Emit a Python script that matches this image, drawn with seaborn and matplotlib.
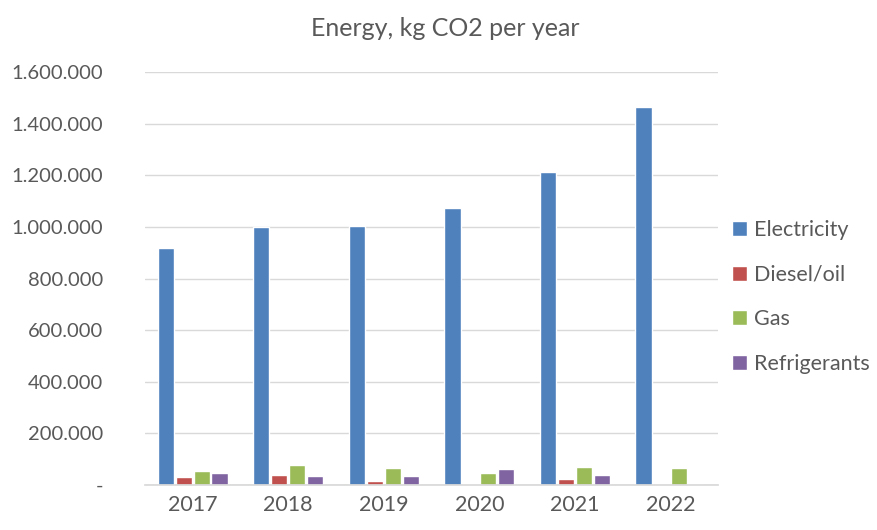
import matplotlib
matplotlib.use("Agg")
import matplotlib.pyplot as plt
import seaborn as sns
import pandas as pd
from matplotlib.ticker import FuncFormatter

years = ["2017", "2018", "2019", "2020", "2021", "2022"]
electricity = [918000, 1000000, 1003000, 1073000, 1212000, 1465000]
diesel_oil = [29000, 39000, 16000, 5000, 22000, 1500]
gas = [53000, 76000, 66000, 47000, 71000, 66000]
refrigerants = [46000, 33000, 34000, 60000, 38000, 0]
series_names = ["Electricity", "Diesel/oil", "Gas", "Refrigerants"]
colors = ["#4F81BD", "#C0504D", "#9BBB59", "#8064A2"]

rows = []
for name, vals in zip(series_names, [electricity, diesel_oil, gas, refrigerants]):
    for y, v in zip(years, vals):
        rows.append({"Year": y, "Source": name, "Value": v})
df = pd.DataFrame(rows)

sns.set_theme(style="white")
plt.rcParams['font.family'] = ['Lato', 'DejaVu Sans']
txt = "#595959"

fig = plt.figure(figsize=(8.78, 5.30), dpi=100)
ax = fig.add_axes([0.165, 0.085, 0.653, 0.779])
sns.barplot(data=df, x="Year", y="Value", hue="Source", hue_order=series_names,
            palette=colors, width=0.75, gap=0.1, ax=ax, saturation=1, legend=True)

ax.set_ylim(0, 1600000)
ax.set_yticks(range(0, 1600001, 200000))
def fmt(v, pos):
    if v == 0:
        return "-"
    return f"{int(v):,}".replace(",", ".")
ax.yaxis.set_major_formatter(FuncFormatter(fmt))
ax.grid(axis="y", color="#D9D9D9", linewidth=1)
ax.set_axisbelow(True)
for s in ["top", "right", "left"]:
    ax.spines[s].set_visible(False)
ax.spines["bottom"].set_color("#D9D9D9")
ax.set_xlabel("")
ax.set_ylabel("")
ax.tick_params(axis="x", colors=txt, labelsize=15.5, length=0, pad=7)
ax.tick_params(axis="y", colors=txt, labelsize=14.5, length=0, pad=30)

leg = ax.legend(loc="center left", bbox_to_anchor=(0.99, 0.455), frameon=False,
                fontsize=15.5, handlelength=0.7, handleheight=0.7, labelspacing=1.15,
                handletextpad=0.35)
for t in leg.get_texts():
    t.set_color(txt)

fig.text(0.507, 0.947, "Energy, kg CO2 per year", ha="center", va="center",
         fontsize=18, color=txt)

fig.savefig("out.png", dpi=100)
